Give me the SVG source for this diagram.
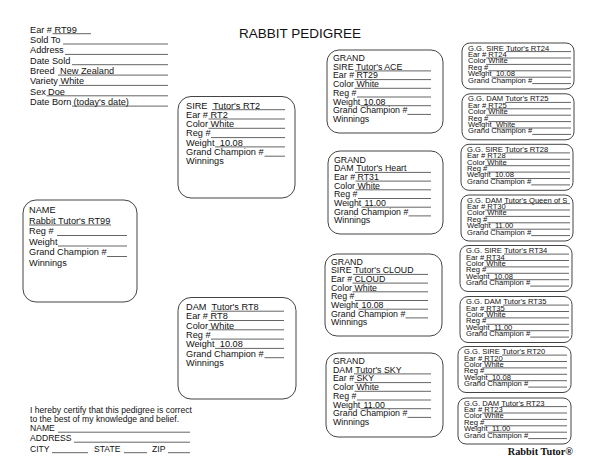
<svg xmlns="http://www.w3.org/2000/svg" width="600" height="464" viewBox="0 0 600 464">
<style>
text{font-family:"Liberation Sans",Arial,sans-serif;fill:#111}
.t{font-size:9.2px}
.g{font-size:8.8px}
.gg{font-size:7.6px}
.title{font-size:13.5px;text-anchor:middle}
.logo{font-family:"Liberation Serif","Times New Roman",serif;font-size:10.3px;font-weight:bold;text-anchor:end}
.box{fill:#fff;stroke:#444;stroke-width:1}
.ul{stroke:#222;stroke-width:0.7;fill:none}
</style>
<rect width="600" height="464" fill="#fff"/>
<text class="title" x="300" y="37.5">RABBIT PEDIGREE</text>

<g id="sale-info">
<text class="t" x="30" y="32.5">Ear # <tspan x="54.5">RT99</tspan></text>
<line class="ul" x1="52.5" y1="33.7" x2="91" y2="33.7"/>
<text class="t" x="30" y="42.85">Sold To</text>
<line class="ul" x1="63" y1="44" x2="168" y2="44"/>
<text class="t" x="30" y="53.2">Address</text>
<line class="ul" x1="65" y1="54.4" x2="168" y2="54.4"/>
<text class="t" x="30" y="63.55">Date Sold</text>
<line class="ul" x1="72" y1="64.7" x2="168" y2="64.7"/>
<text class="t" x="30" y="73.9">Breed <tspan x="60">New Zealand</tspan></text>
<line class="ul" x1="58" y1="75.1" x2="168" y2="75.1"/>
<text class="t" x="30" y="84.25">Variety <tspan x="60.5">White</tspan></text>
<line class="ul" x1="59" y1="85.4" x2="168" y2="85.4"/>
<text class="t" x="30" y="94.6">Sex <tspan x="48">Doe</tspan></text>
<line class="ul" x1="46.5" y1="95.8" x2="168" y2="95.8"/>
<text class="t" x="30" y="104.95">Date Born <tspan x="73.5">(today's date)</tspan></text>
<line class="ul" x1="72" y1="106.1" x2="168" y2="106.1"/>
</g>

<g id="name" transform="translate(23,200)">
<rect class="box" x="0" y="0" width="114" height="102" rx="13"/>
<text class="t" x="6" y="13.3">NAME</text>
<text class="t" x="6" y="23.8">Rabbit Tutor's RT99</text>
<line class="ul" x1="6" y1="25" x2="88" y2="25"/>
<text class="t" x="6" y="34.3">Reg #</text>
<line class="ul" x1="34" y1="35.5" x2="104" y2="35.5"/>
<text class="t" x="6" y="44.8">Weight</text>
<line class="ul" x1="35" y1="46" x2="104" y2="46"/>
<text class="t" x="6" y="55.3">Grand Champion #</text>
<line class="ul" x1="84" y1="56.5" x2="104" y2="56.5"/>
<text class="t" x="6" y="65.8">Winnings</text>
</g>

<g id="sire" transform="translate(178,96.5)">
<rect class="box" x="0" y="0" width="117" height="101.5" rx="13"/>
<text class="t" x="8" y="12">SIRE <tspan x="35">Tutor's RT2</tspan></text>
<line class="ul" x1="34" y1="13.2" x2="107" y2="13.2"/>
<text class="t" x="8" y="21.3">Ear # <tspan x="32.6">RT2</tspan></text>
<line class="ul" x1="30.5" y1="22.5" x2="107" y2="22.5"/>
<text class="t" x="8" y="30.6">Color <tspan x="32.6">White</tspan></text>
<line class="ul" x1="30.5" y1="31.8" x2="107" y2="31.8"/>
<text class="t" x="8" y="39.9">Reg #</text>
<line class="ul" x1="33" y1="41.1" x2="107" y2="41.1"/>
<text class="t" x="8" y="49.2">Weight <tspan x="41.8">10.08</tspan></text>
<line class="ul" x1="37" y1="50.4" x2="107" y2="50.4"/>
<text class="t" x="8" y="58.5">Grand Champion #</text>
<line class="ul" x1="86.5" y1="59.7" x2="107" y2="59.7"/>
<text class="t" x="8" y="67.8">Winnings</text>
</g>

<g id="dam" transform="translate(178,297.5)">
<rect class="box" x="0" y="0" width="118" height="101.5" rx="13"/>
<text class="t" x="8" y="12.5">DAM <tspan x="33.5">Tutor's RT8</tspan></text>
<line class="ul" x1="33" y1="13.7" x2="106" y2="13.7"/>
<text class="t" x="8" y="21.8">Ear # <tspan x="32.6">RT8</tspan></text>
<line class="ul" x1="30.5" y1="23" x2="106" y2="23"/>
<text class="t" x="8" y="31.1">Color <tspan x="32.6">White</tspan></text>
<line class="ul" x1="30.5" y1="32.3" x2="106" y2="32.3"/>
<text class="t" x="8" y="40.4">Reg #</text>
<line class="ul" x1="33" y1="41.6" x2="106" y2="41.6"/>
<text class="t" x="8" y="49.7">Weight <tspan x="41.8">10.08</tspan></text>
<line class="ul" x1="37" y1="50.9" x2="106" y2="50.9"/>
<text class="t" x="8" y="59">Grand Champion #</text>
<line class="ul" x1="86.5" y1="60.2" x2="106" y2="60.2"/>
<text class="t" x="8" y="68.3">Winnings</text>
</g>

<g id="grand-sire-1" transform="translate(327,50)">
<rect class="box" x="0" y="0" width="116" height="83" rx="12"/>
<text class="g" x="6" y="11">GRAND</text>
<text class="g" x="6" y="19.7">SIRE <tspan x="29">Tutor's ACE</tspan></text>
<line class="ul" x1="28" y1="20.9" x2="104" y2="20.9"/>
<text class="g" x="6" y="28.4">Ear # <tspan x="29.5">RT29</tspan></text>
<line class="ul" x1="27.5" y1="29.6" x2="104" y2="29.6"/>
<text class="g" x="6" y="37.1">Color <tspan x="29.5">White</tspan></text>
<line class="ul" x1="27.5" y1="38.3" x2="104" y2="38.3"/>
<text class="g" x="6" y="45.8">Reg #</text>
<line class="ul" x1="30" y1="47" x2="104" y2="47"/>
<text class="g" x="6" y="54.5">Weight <tspan x="36.5">10.08</tspan></text>
<line class="ul" x1="33.5" y1="55.7" x2="104" y2="55.7"/>
<text class="g" x="6" y="63.2">Grand Champion #</text>
<line class="ul" x1="80.5" y1="64.4" x2="104" y2="64.4"/>
<text class="g" x="6" y="71.9">Winnings</text>
</g>

<g id="grand-dam-1" transform="translate(328,151)">
<rect class="box" x="0" y="0" width="115" height="83" rx="12"/>
<text class="g" x="6" y="11.5">GRAND</text>
<text class="g" x="6" y="20.2">DAM <tspan x="28.2">Tutor's Heart</tspan></text>
<line class="ul" x1="27" y1="21.4" x2="103" y2="21.4"/>
<text class="g" x="6" y="28.9">Ear # <tspan x="29.5">RT31</tspan></text>
<line class="ul" x1="27.5" y1="30.1" x2="103" y2="30.1"/>
<text class="g" x="6" y="37.6">Color <tspan x="29.5">White</tspan></text>
<line class="ul" x1="27.5" y1="38.8" x2="103" y2="38.8"/>
<text class="g" x="6" y="46.3">Reg #</text>
<line class="ul" x1="30" y1="47.5" x2="103" y2="47.5"/>
<text class="g" x="6" y="55">Weight <tspan x="36.5">11.00</tspan></text>
<line class="ul" x1="33.5" y1="56.2" x2="103" y2="56.2"/>
<text class="g" x="6" y="63.7">Grand Champion #</text>
<line class="ul" x1="80.5" y1="64.9" x2="103" y2="64.9"/>
<text class="g" x="6" y="72.4">Winnings</text>
</g>

<g id="grand-sire-2" transform="translate(325,254)">
<rect class="box" x="0" y="0" width="117" height="82" rx="12"/>
<text class="g" x="6" y="10.5">GRAND</text>
<text class="g" x="6" y="19.2">SIRE <tspan x="29">Tutor's CLOUD</tspan></text>
<line class="ul" x1="28" y1="20.4" x2="103" y2="20.4"/>
<text class="g" x="6" y="27.9">Ear # <tspan x="29.5">CLOUD</tspan></text>
<line class="ul" x1="27.5" y1="29.1" x2="103" y2="29.1"/>
<text class="g" x="6" y="36.6">Color <tspan x="29.5">White</tspan></text>
<line class="ul" x1="27.5" y1="37.8" x2="103" y2="37.8"/>
<text class="g" x="6" y="45.3">Reg #</text>
<line class="ul" x1="30" y1="46.5" x2="103" y2="46.5"/>
<text class="g" x="6" y="54">Weight <tspan x="36.5">10.08</tspan></text>
<line class="ul" x1="33.5" y1="55.2" x2="103" y2="55.2"/>
<text class="g" x="6" y="62.7">Grand Champion #</text>
<line class="ul" x1="80.5" y1="63.9" x2="103" y2="63.9"/>
<text class="g" x="6" y="71.4">Winnings</text>
</g>

<g id="grand-dam-2" transform="translate(326,353)">
<rect class="box" x="0" y="0" width="117" height="84" rx="12"/>
<text class="g" x="7" y="11">GRAND</text>
<text class="g" x="7" y="19.7">DAM <tspan x="29.2">Tutor's SKY</tspan></text>
<line class="ul" x1="28" y1="20.9" x2="105" y2="20.9"/>
<text class="g" x="7" y="28.4">Ear # <tspan x="30.5">SKY</tspan></text>
<line class="ul" x1="28.5" y1="29.6" x2="105" y2="29.6"/>
<text class="g" x="7" y="37.1">Color <tspan x="30.5">White</tspan></text>
<line class="ul" x1="28.5" y1="38.3" x2="105" y2="38.3"/>
<text class="g" x="7" y="45.8">Reg #</text>
<line class="ul" x1="31" y1="47" x2="105" y2="47"/>
<text class="g" x="7" y="54.5">Weight <tspan x="37.5">11.00</tspan></text>
<line class="ul" x1="34.5" y1="55.7" x2="105" y2="55.7"/>
<text class="g" x="7" y="63.2">Grand Champion #</text>
<line class="ul" x1="81.5" y1="64.4" x2="105" y2="64.4"/>
<text class="g" x="7" y="71.9">Winnings</text>
</g>

<g id="gg-sire-1" transform="translate(462,43)">
<rect class="box" x="0" y="0" width="112" height="46" rx="8"/>
<text class="gg" x="6" y="7.6">G.G. SIRE <tspan x="44">Tutor's RT24</tspan></text>
<line class="ul" x1="44" y1="8.6" x2="109" y2="8.6"/>
<text class="gg" x="6" y="14">Ear # <tspan x="26.3">RT24</tspan></text>
<line class="ul" x1="24.2" y1="15" x2="109" y2="15"/>
<text class="gg" x="6" y="20.4">Color <tspan x="26.3">White</tspan></text>
<line class="ul" x1="24.2" y1="21.4" x2="109" y2="21.4"/>
<text class="gg" x="6" y="26.8">Reg #</text>
<line class="ul" x1="26.3" y1="27.8" x2="109" y2="27.8"/>
<text class="gg" x="6" y="33.2">Weight <tspan x="33.9">10.08</tspan></text>
<line class="ul" x1="29.7" y1="34.2" x2="109" y2="34.2"/>
<text class="gg" x="6" y="39.6">Grand Champion #</text>
<line class="ul" x1="70.2" y1="40.6" x2="109" y2="40.6"/>
</g>

<g id="gg-dam-1" transform="translate(462,93.8)">
<rect class="box" x="0" y="0" width="112" height="46" rx="8"/>
<text class="gg" x="6" y="7.6">G.G. DAM <tspan x="43.2">Tutor's RT25</tspan></text>
<line class="ul" x1="43.2" y1="8.6" x2="109" y2="8.6"/>
<text class="gg" x="6" y="14">Ear # <tspan x="26.3">RT25</tspan></text>
<line class="ul" x1="24.2" y1="15" x2="109" y2="15"/>
<text class="gg" x="6" y="20.4">Color <tspan x="26.3">White</tspan></text>
<line class="ul" x1="24.2" y1="21.4" x2="109" y2="21.4"/>
<text class="gg" x="6" y="26.8">Reg #</text>
<line class="ul" x1="26.3" y1="27.8" x2="109" y2="27.8"/>
<text class="gg" x="6" y="33.2">Weight <tspan x="33.9">White</tspan></text>
<line class="ul" x1="29.7" y1="34.2" x2="109" y2="34.2"/>
<text class="gg" x="6" y="39.6">Grand Champion #</text>
<line class="ul" x1="70.2" y1="40.6" x2="109" y2="40.6"/>
</g>

<g id="gg-sire-2" transform="translate(461,144.3)">
<rect class="box" x="0" y="0" width="112" height="46" rx="8"/>
<text class="gg" x="6" y="7.6">G.G. SIRE <tspan x="44">Tutor's RT28</tspan></text>
<line class="ul" x1="44" y1="8.6" x2="109" y2="8.6"/>
<text class="gg" x="6" y="14">Ear # <tspan x="26.3">RT28</tspan></text>
<line class="ul" x1="24.2" y1="15" x2="109" y2="15"/>
<text class="gg" x="6" y="20.4">Color <tspan x="26.3">White</tspan></text>
<line class="ul" x1="24.2" y1="21.4" x2="109" y2="21.4"/>
<text class="gg" x="6" y="26.8">Reg #</text>
<line class="ul" x1="26.3" y1="27.8" x2="109" y2="27.8"/>
<text class="gg" x="6" y="33.2">Weight <tspan x="33.9">10.08</tspan></text>
<line class="ul" x1="29.7" y1="34.2" x2="109" y2="34.2"/>
<text class="gg" x="6" y="39.6">Grand Champion #</text>
<line class="ul" x1="70.2" y1="40.6" x2="109" y2="40.6"/>
</g>

<g id="gg-dam-2" transform="translate(461,195)">
<rect class="box" x="0" y="0" width="112" height="46" rx="8"/>
<text class="gg" x="6" y="7.6">G.G. DAM <tspan x="43.2">Tutor's Queen of S</tspan></text>
<line class="ul" x1="43.2" y1="8.6" x2="109" y2="8.6"/>
<text class="gg" x="6" y="14">Ear # <tspan x="26.3">RT30</tspan></text>
<line class="ul" x1="24.2" y1="15" x2="109" y2="15"/>
<text class="gg" x="6" y="20.4">Color <tspan x="26.3">White</tspan></text>
<line class="ul" x1="24.2" y1="21.4" x2="109" y2="21.4"/>
<text class="gg" x="6" y="26.8">Reg #</text>
<line class="ul" x1="26.3" y1="27.8" x2="109" y2="27.8"/>
<text class="gg" x="6" y="33.2">Weight <tspan x="33.9">11.00</tspan></text>
<line class="ul" x1="29.7" y1="34.2" x2="109" y2="34.2"/>
<text class="gg" x="6" y="39.6">Grand Champion #</text>
<line class="ul" x1="70.2" y1="40.6" x2="109" y2="40.6"/>
</g>

<g id="gg-sire-3" transform="translate(460,245.5)">
<rect class="box" x="0" y="0" width="112" height="46" rx="8"/>
<text class="gg" x="6" y="7.6">G.G. SIRE <tspan x="44">Tutor's RT34</tspan></text>
<line class="ul" x1="44" y1="8.6" x2="109" y2="8.6"/>
<text class="gg" x="6" y="14">Ear # <tspan x="26.3">RT34</tspan></text>
<line class="ul" x1="24.2" y1="15" x2="109" y2="15"/>
<text class="gg" x="6" y="20.4">Color <tspan x="26.3">White</tspan></text>
<line class="ul" x1="24.2" y1="21.4" x2="109" y2="21.4"/>
<text class="gg" x="6" y="26.8">Reg #</text>
<line class="ul" x1="26.3" y1="27.8" x2="109" y2="27.8"/>
<text class="gg" x="6" y="33.2">Weight <tspan x="33.9">10.08</tspan></text>
<line class="ul" x1="29.7" y1="34.2" x2="109" y2="34.2"/>
<text class="gg" x="6" y="39.6">Grand Champion #</text>
<line class="ul" x1="70.2" y1="40.6" x2="109" y2="40.6"/>
</g>

<g id="gg-dam-3" transform="translate(460,296.5)">
<rect class="box" x="0" y="0" width="112" height="46" rx="8"/>
<text class="gg" x="6" y="7.6">G.G. DAM <tspan x="43.2">Tutor's RT35</tspan></text>
<line class="ul" x1="43.2" y1="8.6" x2="109" y2="8.6"/>
<text class="gg" x="6" y="14">Ear # <tspan x="26.3">RT35</tspan></text>
<line class="ul" x1="24.2" y1="15" x2="109" y2="15"/>
<text class="gg" x="6" y="20.4">Color <tspan x="26.3">White</tspan></text>
<line class="ul" x1="24.2" y1="21.4" x2="109" y2="21.4"/>
<text class="gg" x="6" y="26.8">Reg #</text>
<line class="ul" x1="26.3" y1="27.8" x2="109" y2="27.8"/>
<text class="gg" x="6" y="33.2">Weight <tspan x="33.9">11.00</tspan></text>
<line class="ul" x1="29.7" y1="34.2" x2="109" y2="34.2"/>
<text class="gg" x="6" y="39.6">Grand Champion #</text>
<line class="ul" x1="70.2" y1="40.6" x2="109" y2="40.6"/>
</g>

<g id="gg-sire-4" transform="translate(458,346.5)">
<rect class="box" x="0" y="0" width="113" height="46" rx="8"/>
<text class="gg" x="6" y="7.6">G.G. SIRE <tspan x="44">Tutor's RT20</tspan></text>
<line class="ul" x1="44" y1="8.6" x2="109" y2="8.6"/>
<text class="gg" x="6" y="14">Ear # <tspan x="26.3">RT20</tspan></text>
<line class="ul" x1="24.2" y1="15" x2="109" y2="15"/>
<text class="gg" x="6" y="20.4">Color <tspan x="26.3">White</tspan></text>
<line class="ul" x1="24.2" y1="21.4" x2="109" y2="21.4"/>
<text class="gg" x="6" y="26.8">Reg #</text>
<line class="ul" x1="26.3" y1="27.8" x2="109" y2="27.8"/>
<text class="gg" x="6" y="33.2">Weight <tspan x="33.9">10.08</tspan></text>
<line class="ul" x1="29.7" y1="34.2" x2="109" y2="34.2"/>
<text class="gg" x="6" y="39.6">Grand Champion #</text>
<line class="ul" x1="70.2" y1="40.6" x2="109" y2="40.6"/>
</g>

<g id="gg-dam-4" transform="translate(458,398)">
<rect class="box" x="0" y="0" width="113" height="46" rx="8"/>
<text class="gg" x="6" y="7.6">G.G. DAM <tspan x="43.2">Tutor's RT23</tspan></text>
<line class="ul" x1="43.2" y1="8.6" x2="109" y2="8.6"/>
<text class="gg" x="6" y="14">Ear # <tspan x="26.3">RT23</tspan></text>
<line class="ul" x1="24.2" y1="15" x2="109" y2="15"/>
<text class="gg" x="6" y="20.4">Color <tspan x="26.3">White</tspan></text>
<line class="ul" x1="24.2" y1="21.4" x2="109" y2="21.4"/>
<text class="gg" x="6" y="26.8">Reg #</text>
<line class="ul" x1="26.3" y1="27.8" x2="109" y2="27.8"/>
<text class="gg" x="6" y="33.2">Weight <tspan x="33.9">11.00</tspan></text>
<line class="ul" x1="29.7" y1="34.2" x2="109" y2="34.2"/>
<text class="gg" x="6" y="39.6">Grand Champion #</text>
<line class="ul" x1="70.2" y1="40.6" x2="109" y2="40.6"/>
</g>

<g id="certification">
<text class="t" style="font-size:8.6px" x="30" y="412.5">I hereby certify that this pedigree is correct</text>
<text class="t" style="font-size:8.6px" x="30" y="421.5">to the best of my knowledge and belief.</text>
<text class="t" style="font-size:8.6px" x="30" y="431">NAME</text>
<line class="ul" x1="58" y1="432.2" x2="190" y2="432.2"/>
<text class="t" style="font-size:8.6px" x="30" y="441">ADDRESS</text>
<line class="ul" x1="74" y1="442.2" x2="190" y2="442.2"/>
<text class="t" style="font-size:8.6px" x="30" y="451.5">CITY</text>
<line class="ul" x1="52" y1="452.7" x2="88" y2="452.7"/>
<text class="t" style="font-size:8.6px" x="94" y="451.5">STATE</text>
<line class="ul" x1="124" y1="452.7" x2="147" y2="452.7"/>
<text class="t" style="font-size:8.6px" x="152" y="451.5">ZIP</text>
<line class="ul" x1="168" y1="452.7" x2="190" y2="452.7"/>
</g>

<text class="logo" x="573" y="455">Rabbit Tutor®</text>
</svg>
